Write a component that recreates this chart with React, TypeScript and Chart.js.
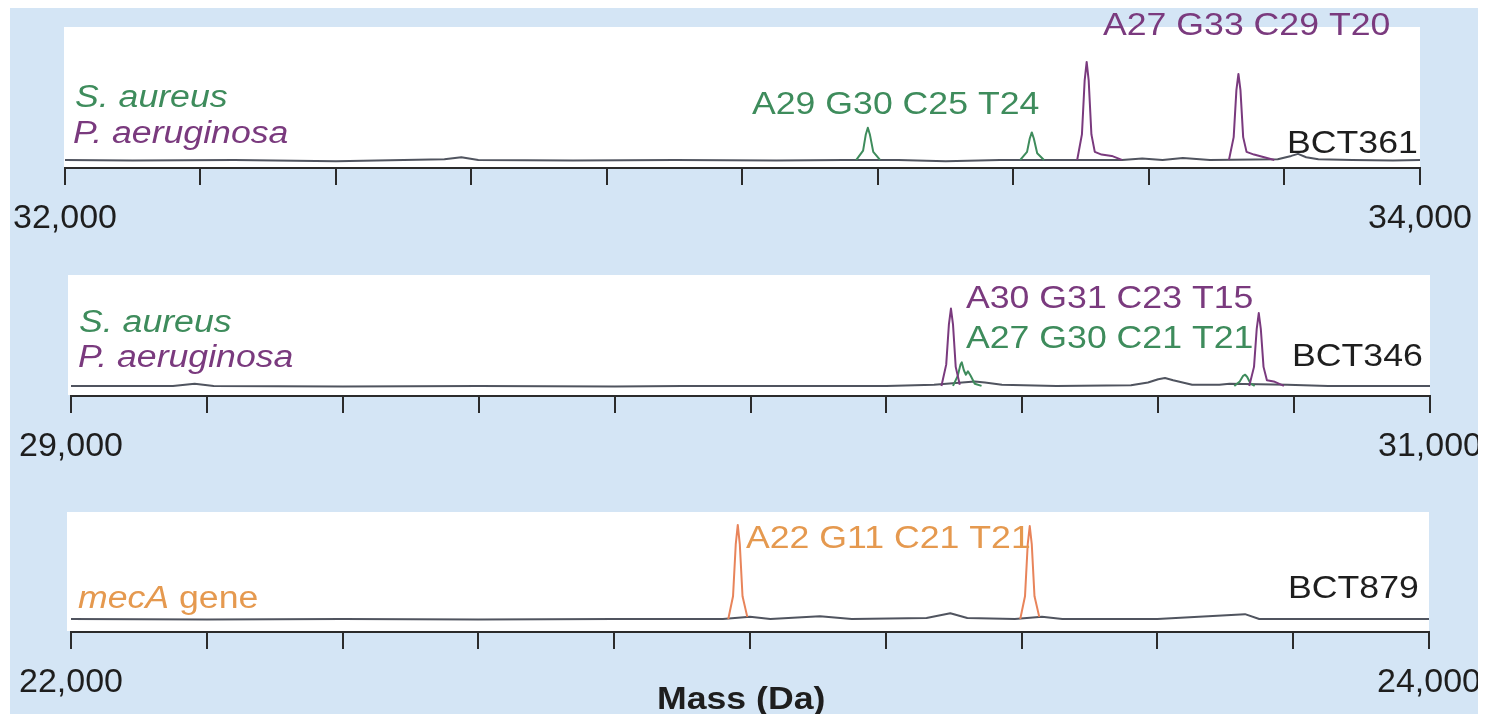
import React, { useEffect, useRef } from "react";
import { Chart, registerables } from "chart.js";
Chart.register(...registerables);

const FONT = "'Liberation Sans', Arial, Helvetica, sans-serif";

// ---------- Panel 1 : BCT361 (32,000 - 34,000 Da) ----------
const p1Range = [32000, 34000];
const p1TickLabels = ["32,000", "34,000"];
const p1BaseMass = [32000, 32100, 32250, 32400, 32560, 32585, 32610, 32750, 32900, 33050, 33150, 33230, 33300, 33380, 33470, 33560, 33590, 33620, 33650, 33690, 33790, 33810, 33820, 33832, 33850, 33900, 33960, 34000];
const p1BaseInt = [0.01, 0.005, 0.01, 0.0, 0.015, 0.03, 0.01, 0.005, 0.01, 0.005, 0.01, 0.01, 0.0, 0.01, 0.01, 0.01, 0.02, 0.01, 0.025, 0.01, 0.015, 0.04, 0.055, 0.03, 0.015, 0.01, 0.005, 0.01];
const p1GreenMass = [33168, 33178, 33182, 33185, 33188, 33193, 33203, 33300, 33410, 33420, 33424, 33427, 33430, 33435, 33445];
const p1GreenInt = [0.01, 0.08, 0.2, 0.25, 0.2, 0.07, 0.01, null, 0.01, 0.07, 0.17, 0.215, 0.17, 0.06, 0.01];
const p1PurpleMass = [33494, 33501, 33505, 33508, 33511, 33515, 33520, 33530, 33545, 33560, 33650, 33718, 33725, 33729, 33732, 33735, 33739, 33744, 33755, 33770, 33785];
const p1PurpleInt = [0.01, 0.2, 0.6, 0.74, 0.6, 0.2, 0.07, 0.05, 0.04, 0.01, null, 0.01, 0.18, 0.53, 0.65, 0.53, 0.18, 0.07, 0.05, 0.03, 0.01];

// ---------- Panel 2 : BCT346 (29,000 - 31,000 Da) ----------
const p2Range = [29000, 31000];
const p2TickLabels = ["29,000", "31,000"];
const p2BaseMass = [29000, 29150, 29182, 29210, 29400, 29600, 29800, 29900, 30050, 30200, 30270, 30330, 30345, 30370, 30450, 30560, 30585, 30600, 30610, 30622, 30650, 30690, 30705, 30790, 30850, 31000];
const p2BaseInt = [0.01, 0.01, 0.03, 0.01, 0.005, 0.01, 0.005, 0.01, 0.01, 0.01, 0.02, 0.05, 0.04, 0.02, 0.01, 0.015, 0.04, 0.07, 0.08, 0.06, 0.02, 0.02, 0.03, 0.02, 0.01, 0.01];
const p2GreenMass = [30298, 30305, 30309, 30311, 30314, 30317, 30320, 30324, 30330, 30340, 30500, 30712, 30720, 30725, 30728, 30731, 30736, 30742];
const p2GreenInt = [0.01, 0.1, 0.2, 0.22, 0.15, 0.11, 0.14, 0.1, 0.03, 0.01, null, 0.01, 0.05, 0.1, 0.11, 0.09, 0.03, 0.01];
const p2PurpleMass = [30281, 30288, 30292, 30295, 30298, 30302, 30308, 30500, 30734, 30741, 30745, 30748, 30751, 30755, 30760, 30770, 30785];
const p2PurpleInt = [0.01, 0.2, 0.56, 0.7, 0.56, 0.18, 0.02, null, 0.01, 0.18, 0.52, 0.66, 0.52, 0.18, 0.06, 0.05, 0.01];

// ---------- Panel 3 : BCT879 (22,000 - 24,000 Da) ----------
const p3Range = [22000, 24000];
const p3TickLabels = ["22,000", "24,000"];
const p3BaseMass = [22000, 22200, 22400, 22600, 22800, 22960, 23000, 23030, 23103, 23150, 23260, 23295, 23320, 23390, 23430, 23460, 23600, 23729, 23750, 23900, 24000];
const p3BaseInt = [0.01, 0.005, 0.01, 0.005, 0.01, 0.01, 0.03, 0.01, 0.036, 0.01, 0.02, 0.064, 0.02, 0.01, 0.03, 0.01, 0.01, 0.055, 0.01, 0.01, 0.01];
const p3OrangeMass = [22968, 22975, 22979, 22982, 22985, 22989, 22996, 23200, 23398, 23405, 23409, 23412, 23415, 23419, 23426];
const p3OrangeInt = [0.01, 0.22, 0.7, 0.88, 0.7, 0.22, 0.03, null, 0.01, 0.22, 0.7, 0.87, 0.7, 0.22, 0.03];

const TICK_STEP = 200;

const C = {
  bg: "#d4e5f5",
  green: "#3e8c5c",
  purple: "#7a3a7e",
  orangeText: "#e5994f",
  orange: "#e8845a",
  gray: "#50545f",
  axis: "#2b2b2b",
  black: "#1e1e1e",
};

type Part = { t: string; color: string; italic?: boolean; bold?: boolean };
type Label = { parts: Part[]; x: number; y: number; size?: number };

const TEXT_SIZE = 31;
const TEXT_SX = 1.15;

function drawParts(ctx: CanvasRenderingContext2D, parts: Part[], x: number, y: number, size: number) {
  let cx = x;
  for (const p of parts) {
    ctx.save();
    ctx.font = `${p.italic ? "italic " : ""}${p.bold ? "bold " : ""}${size}px ${FONT}`;
    ctx.fillStyle = p.color;
    ctx.textBaseline = "middle";
    ctx.textAlign = "left";
    ctx.translate(cx, y);
    ctx.scale(TEXT_SX, 1);
    ctx.fillText(p.t, 0, 0);
    const w = ctx.measureText(p.t).width * TEXT_SX;
    ctx.restore();
    cx += w;
  }
}

type Series = { mass: number[]; intensity: (number | null)[]; color: string; order: number };
type PanelDef = {
  top: number;
  height: number;
  chartTop: number;
  chartBottom: number;
  left: number;
  right: number;
  boxExtra: number;
  range: number[];
  tickLabels: string[];
  yMin: number;
  series: Series[];
  labels: Label[];
};

const panels: PanelDef[] = [
  {
    top: 0,
    height: 245,
    chartTop: 27,
    chartBottom: 168,
    left: 63,
    right: 1420,
    boxExtra: 1,
    range: p1Range,
    tickLabels: p1TickLabels,
    yMin: -0.05,
    series: [
      { mass: p1BaseMass, intensity: p1BaseInt, color: C.gray, order: 3 },
      { mass: p1GreenMass, intensity: p1GreenInt, color: C.green, order: 2 },
      { mass: p1PurpleMass, intensity: p1PurpleInt, color: C.purple, order: 1 },
    ],
    labels: [
      { parts: [{ t: "S. aureus", color: C.green, italic: true }], x: 75, y: 98 },
      { parts: [{ t: "P. aeruginosa", color: C.purple, italic: true }], x: 73, y: 134 },
      { parts: [{ t: "A29 G30 C25 T24", color: C.green }], x: 752, y: 105 },
      { parts: [{ t: "A27 G33 C29 T20", color: C.purple }], x: 1103, y: 26 },
      { parts: [{ t: "BCT361", color: C.black }], x: 1287, y: 144 },
    ],
  },
  {
    top: 245,
    height: 225,
    chartTop: 275,
    chartBottom: 396,
    left: 71,
    right: 1430,
    boxExtra: 3,
    range: p2Range,
    tickLabels: p2TickLabels,
    yMin: -0.08,
    series: [
      { mass: p2BaseMass, intensity: p2BaseInt, color: C.gray, order: 3 },
      { mass: p2GreenMass, intensity: p2GreenInt, color: C.green, order: 2 },
      { mass: p2PurpleMass, intensity: p2PurpleInt, color: C.purple, order: 1 },
    ],
    labels: [
      { parts: [{ t: "S. aureus", color: C.green, italic: true }], x: 79, y: 323 },
      { parts: [{ t: "P. aeruginosa", color: C.purple, italic: true }], x: 78, y: 358 },
      { parts: [{ t: "A30 G31 C23 T15", color: C.purple }], x: 966, y: 299 },
      { parts: [{ t: "A27 G30 C21 T21", color: C.green }], x: 966, y: 339 },
      { parts: [{ t: "BCT346", color: C.black }], x: 1292, y: 357 },
    ],
  },
  {
    top: 470,
    height: 244,
    chartTop: 512,
    chartBottom: 632,
    left: 71,
    right: 1429,
    boxExtra: 4,
    range: p3Range,
    tickLabels: p3TickLabels,
    yMin: -0.11,
    series: [
      { mass: p3BaseMass, intensity: p3BaseInt, color: C.gray, order: 3 },
      { mass: p3OrangeMass, intensity: p3OrangeInt, color: C.orange, order: 1 },
    ],
    labels: [
      {
        parts: [
          { t: "mecA", color: C.orangeText, italic: true },
          { t: " gene", color: C.orangeText },
        ],
        x: 78,
        y: 599,
      },
      { parts: [{ t: "A22 G11 C21 T21", color: C.orangeText }], x: 746, y: 539 },
      { parts: [{ t: "BCT879", color: C.black }], x: 1288, y: 589 },
      { parts: [{ t: "Mass (Da)", color: C.black, bold: true }], x: 657, y: 700, size: 31 },
    ],
  },
];

const W = 1495;

function PanelChart({ def }: { def: PanelDef }) {
  const ref = useRef<HTMLCanvasElement | null>(null);
  useEffect(() => {
    if (!ref.current) return;
    const [min, max] = def.range;
    const scaleH = def.height - (def.chartBottom - def.top);
    const deco = {
      id: "deco",
      beforeDatasetsDraw(chart: any) {
        const { ctx, chartArea } = chart;
        ctx.save();
        ctx.fillStyle = "#ffffff";
        ctx.fillRect(
          chartArea.left - def.boxExtra,
          chartArea.top,
          chartArea.right - chartArea.left + def.boxExtra,
          chartArea.bottom - chartArea.top - 1
        );
        ctx.restore();
      },
      afterDraw(chart: any) {
        const ctx = chart.ctx as CanvasRenderingContext2D;
        for (const l of def.labels) drawParts(ctx, l.parts, l.x, l.y - def.top, l.size || TEXT_SIZE);
      },
    };
    const chart = new Chart(ref.current, {
      type: "line",
      data: {
        datasets: def.series.map((s) => ({
          data: s.mass.map((m, i) => ({ x: m, y: s.intensity[i] })),
          borderColor: s.color,
          borderWidth: 2,
          borderJoinStyle: "round",
          pointRadius: 0,
          fill: false,
          tension: 0,
          spanGaps: false,
          order: s.order,
        })),
      } as any,
      options: {
        animation: false,
        responsive: false,
        maintainAspectRatio: false,
        events: [],
        layout: {
          padding: { left: def.left, right: W - def.right, top: def.chartTop - def.top, bottom: 0 },
        },
        plugins: { legend: { display: false }, tooltip: { enabled: false } },
        scales: {
          x: {
            type: "linear",
            min,
            max,
            afterFit: (s: any) => {
              s.height = scaleH;
            },
            ticks: {
              stepSize: TICK_STEP,
              autoSkip: false,
              maxRotation: 0,
              minRotation: 0,
              padding: 13,
              color: C.black,
              font: { family: FONT, size: 34 },
              callback: (v: any) => (v === min ? def.tickLabels[0] : v === max ? def.tickLabels[1] : ""),
            },
            grid: {
              drawOnChartArea: false,
              drawTicks: true,
              tickLength: 17,
              color: C.axis,
              lineWidth: 2,
            },
            border: { display: true, color: C.axis, width: 2 },
          },
          y: { display: false, min: def.yMin, max: 1 },
        },
      } as any,
      plugins: [deco],
    });
    return () => chart.destroy();
  }, [def]);
  return (
    <canvas
      ref={ref}
      width={W}
      height={def.height}
      style={{ position: "absolute", left: 0, top: def.top, width: W, height: def.height }}
    />
  );
}

export default function App() {
  return (
    <div style={{ position: "absolute", left: 0, top: 0, width: W, height: 714, background: C.bg, overflow: "hidden" }}>
      {panels.map((p, i) => (
        <PanelChart key={i} def={p} />
      ))}
      <div style={{ position: "absolute", left: 0, top: 0, width: W, height: 8, background: "#fff" }} />
      <div style={{ position: "absolute", left: 0, top: 0, width: 10, height: 714, background: "#fff" }} />
      <div style={{ position: "absolute", left: 1478, top: 0, width: W - 1478, height: 714, background: "#fff" }} />
    </div>
  );
}
